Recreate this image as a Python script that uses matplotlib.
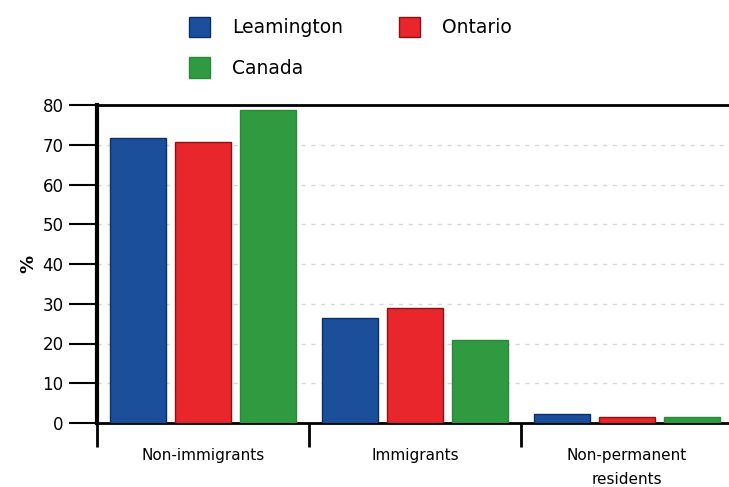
import matplotlib.pyplot as plt
import numpy as np

# data
categories = ['Non-immigrants', 'Immigrants', 'Non-permanent\nresidents']
series = ['Leamington', 'Ontario', 'Canada']
leamington = [71.7, 26.4, 2.3]
ontario = [70.7, 28.9, 1.5]
canada = [78.7, 20.9, 1.5]
colors = ['#1b4f9c', '#e8262b', '#2f9a40']
edges = ['#0e2f66', '#8a1414', '#2a8a38']

fig = plt.figure(figsize=(7.29, 4.87), dpi=100)
ax = fig.add_axes([97 / 729, 64 / 487, 636 / 729, 318 / 487])

x = np.arange(len(categories))
width = 0.265
step = 0.307
bars = []
for i, vals in enumerate([leamington, ontario, canada]):
    b = ax.bar(x + (i - 1) * step, vals, width, color=colors[i],
               edgecolor=edges[i], linewidth=1, label=series[i], zorder=3)
    bars.append(b)

ax.set_xlim(-0.5, 2.5)
ax.set_ylim(0, 80)
ax.set_yticks(np.arange(0, 81, 10))
ax.yaxis.grid(True, linestyle=(0, (3, 4)), color='#d8d8d8', linewidth=1, zorder=0)

# category labels between separator ticks
ax.set_xticks([-0.5, 0.5, 1.5, 2.5])
ax.set_xticklabels([])
ax.tick_params(axis='x', length=17, width=2, direction='out')
for xi, lab in zip(x, categories):
    ax.text(xi, -6.2, lab, ha='center', va='top', fontsize=11, linespacing=1.75)

ax.tick_params(axis='y', length=20, width=1.5, labelsize=12, pad=4)
ax.set_ylabel('%', fontsize=13, fontweight='bold', labelpad=4)

ax.spines['left'].set_linewidth(3)
ax.spines['top'].set_linewidth(2)
ax.spines['bottom'].set_linewidth(2)
ax.spines['right'].set_linewidth(2)

handles = [bars[0], bars[2], bars[1]]
fig.legend(handles, ['Leamington', 'Canada', 'Ontario'], ncol=2,
           loc='upper left', bbox_to_anchor=(172 / 729, 1.0), frameon=False,
           fontsize=13.5, handlelength=1.1, handleheight=1.3, columnspacing=3.0,
           handletextpad=1.2, labelspacing=1.05)

plt.savefig('out.png', dpi=100)
